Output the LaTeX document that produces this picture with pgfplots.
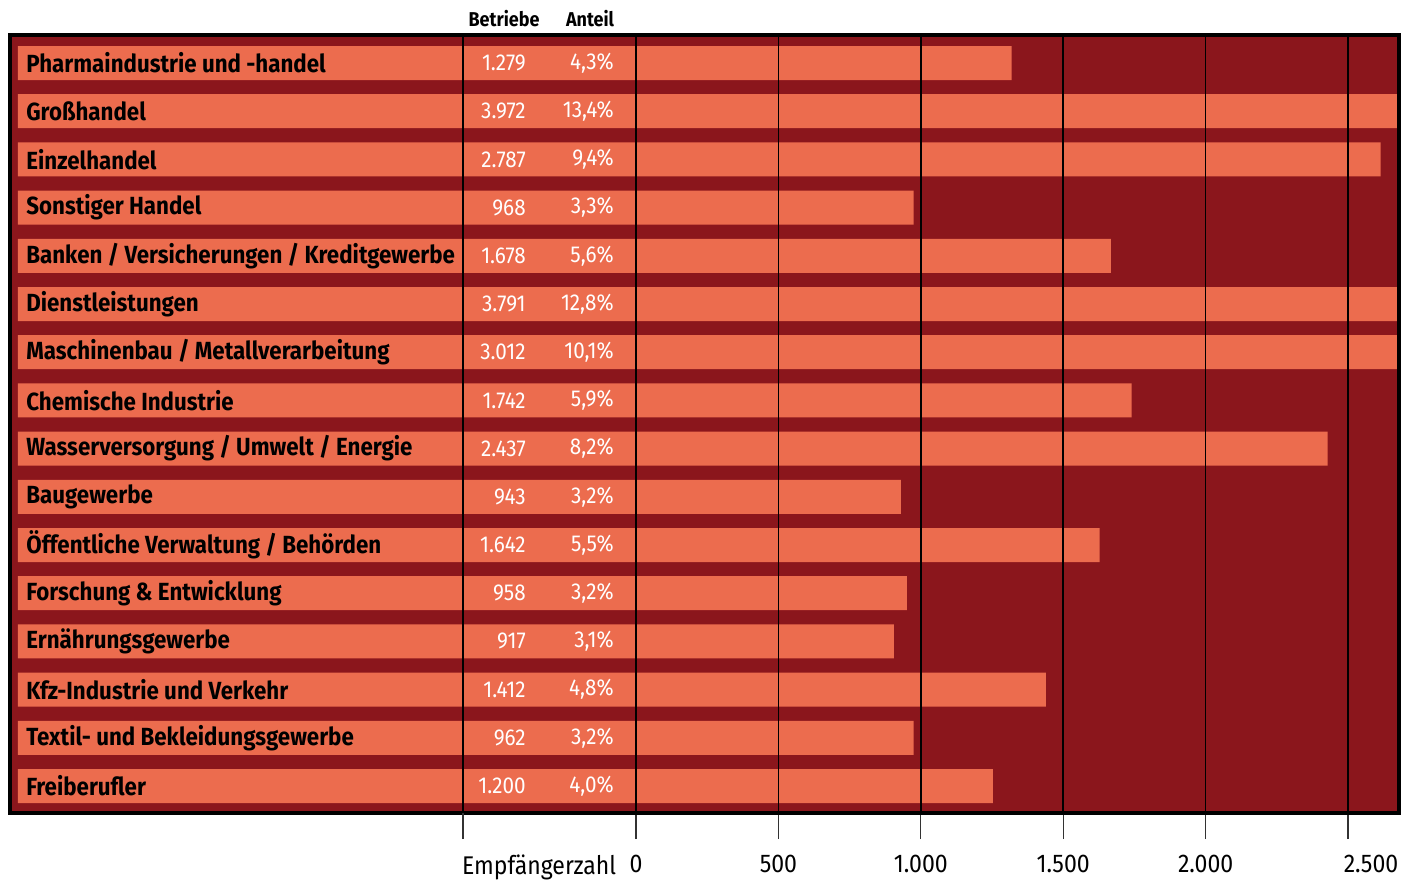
\documentclass[border=0pt]{standalone}
\usepackage{fontspec}
\setmainfont{Fira Sans}[FakeStretch=0.9]
\usepackage{pgfplots}
\usepackage{pgfplotstable}
\pgfplotsset{compat=1.18}
\definecolor{bgred}{HTML}{8B161C}
\definecolor{barred}{HTML}{EC6C4E}

% emp = Empfaengerzahl (bar length), betr = Betriebe, anteil = Anteil
\pgfplotstableread[col sep=semicolon]{
idx;emp;betr;anteil;name
0;1319;1.279;4,3\%;Pharmaindustrie und -handel
1;3950;3.972;13,4\%;Großhandel
2;2614;2.787;9,4\%;Einzelhandel
3;975;968;3,3\%;Sonstiger Handel
4;1667;1.678;5,6\%;Banken / Versicherungen / Kreditgewerbe
5;3780;3.791;12,8\%;Dienstleistungen
6;3000;3.012;10,1\%;Maschinenbau / Metallverarbeitung
7;1740;1.742;5,9\%;Chemische Industrie
8;2428;2.437;8,2\%;Wasserversorgung / Umwelt / Energie
9;930;943;3,2\%;Baugewerbe
10;1628;1.642;5,5\%;Öffentliche Verwaltung / Behörden
11;951;958;3,2\%;Forschung \& Entwicklung
12;905;917;3,1\%;Ernährungsgewerbe
13;1439;1.412;4,8\%;Kfz-Industrie und Verkehr
14;975;962;3,2\%;Textil- und Bekleidungsgewerbe
15;1253;1.200;4,0\%;Freiberufler
}\data

\begin{document}
\begin{tikzpicture}
\begin{axis}[
    scale only axis,
    width=694.5pt, height=389pt,
    at={(0,0)}, anchor=south west,
    xmin=-28, xmax=4849,
    ymin=-0.581, ymax=15.56,
    y dir=reverse,
    axis background/.style={fill=bgred},
    axis on top,
    clip mode=individual,
    axis line style={line width=1.6pt, black},
    ytick=\empty,
    xtick={2170,2670,3170,3670,4170,4670},
    xticklabels={0,500,1.000,1.500,2.000,\hspace*{23pt}2.500},
    extra x ticks={1562.6},
    extra x tick labels={Empfängerzahl},
    extra x tick style={grid=major, xticklabel style={anchor=north west, xshift=-4pt}},
    xmajorgrids,
    grid style={black, line width=0.8pt},
    tick align=outside,
    xtick pos=bottom,
    major tick length=13pt,
    tick style={black!80, line width=0.6pt},
    xticklabel style={font=\fontsize{12.8}{14}\selectfont, text=black, yshift=-4.5pt},
]
\addplot[xbar, bar width=17pt, fill=barred, draw=none]
    table[x expr=\thisrow{emp}+2170, y=idx] \data;

\addplot[draw=none, nodes near coords, point meta=explicit symbolic,
    nodes near coords style={anchor=west, inner xsep=0pt, text=black, font=\bfseries\fontsize{12.4}{14}\selectfont}]
    table[x expr=28, y=idx, meta=name] \data;

\addplot[draw=none, nodes near coords, point meta=explicit symbolic,
    nodes near coords style={anchor=east, inner xsep=0pt, text=white, font=\fontsize{11.5}{13}\selectfont}]
    table[x expr=1784, y=idx, meta=betr] \data;

\addplot[draw=none, nodes near coords, point meta=explicit symbolic,
    nodes near coords style={anchor=east, inner xsep=0pt, text=white, font=\fontsize{11.5}{13}\selectfont}]
    table[x expr=2093, y=idx, meta=anteil] \data;

\node[font=\bfseries\fontsize{10}{12}\selectfont] at (axis cs:1706.5,-0.913) {Betriebe};
\node[font=\bfseries\fontsize{10}{12}\selectfont] at (axis cs:2008.5,-0.913) {Anteil};
\end{axis}
\pgfresetboundingbox
\path[use as bounding box] ([shift={(-5pt,-34.5pt)}]current axis.south west)
    rectangle ([shift={(1pt,17.5pt)}]current axis.north east);
\end{tikzpicture}
\end{document}
